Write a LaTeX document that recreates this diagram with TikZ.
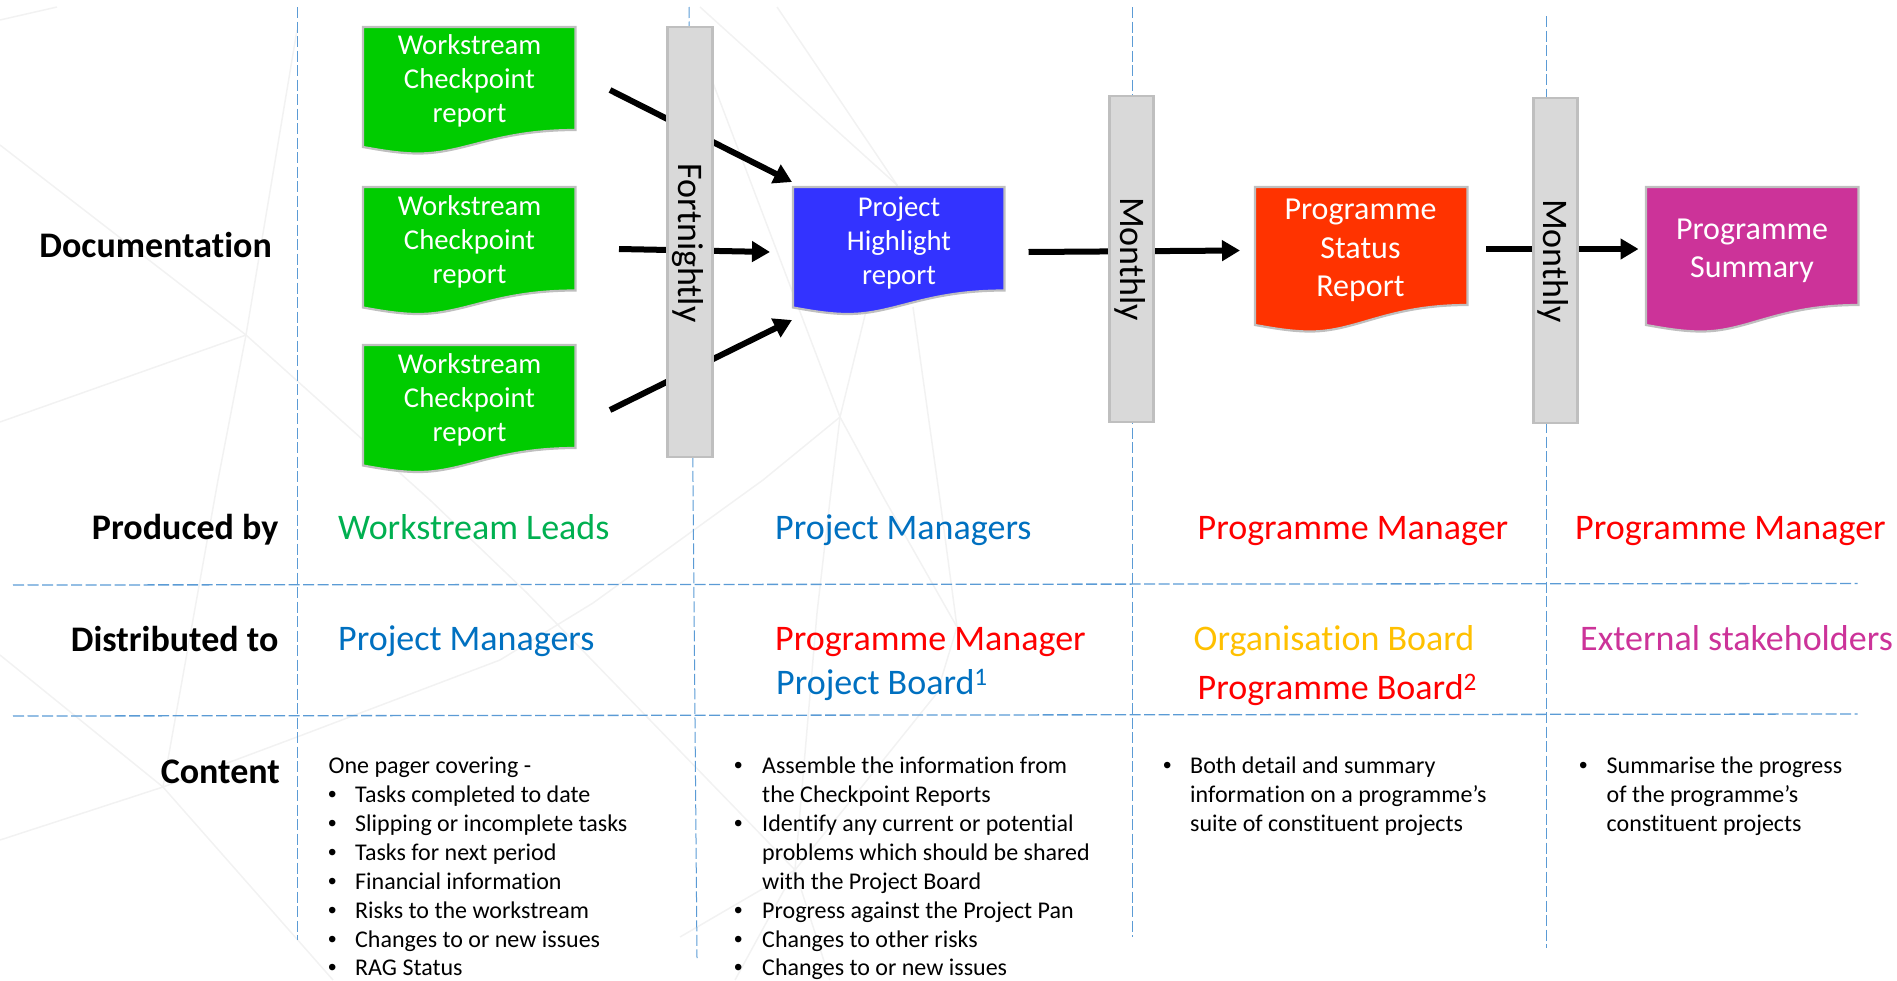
\documentclass[tikz,border=0pt]{standalone}
\usepackage{fontspec}
\setmainfont[Ligatures=NoCommon]{Carlito}
\newfontfamily\bulletfont{Liberation Sans}
\usetikzlibrary{arrows.meta}
\definecolor{bgline}{HTML}{F2F2F2}
\definecolor{rule}{HTML}{5B9BD5}
\definecolor{docgreen}{HTML}{00CC00}
\definecolor{docblue}{HTML}{3333FF}
\definecolor{docred}{HTML}{FF3300}
\definecolor{docmag}{HTML}{CC3399}
\definecolor{barfill}{HTML}{D9D9D9}
\definecolor{barline}{HTML}{BFBFBF}
\definecolor{tgreen}{HTML}{00B050}
\definecolor{tblue}{HTML}{0070C0}
\definecolor{tred}{HTML}{FF0000}
\definecolor{tamber}{HTML}{FFC000}
\definecolor{tmag}{HTML}{CC3399}
\newcommand\docpath[6]{% x0 x1 ytop yleft yright colour
\draw[docedge,fill=#6] (#1,#3) -- (#2,#3) -- (#2,#5)
 .. controls ({#1+0.62*(#2-#1)},#5) and ({#1+0.48*(#2-#1)},{#4+6.5}) .. ({#1+0.26*(#2-#1)},{#4+6.5})
 .. controls ({#1+0.17*(#2-#1)},{#4+6.5}) and ({#1+0.08*(#2-#1)},{#4+3}) .. (#1,#4) -- cycle;}
\tikzset{
 x=1pt,y=-1pt,
 bg/.style={draw=bgline,line width=1.5pt},
 vrule/.style={draw=rule,line width=1pt,dash pattern=on 11pt off 3.5pt},
 hrule/.style={draw=rule,line width=1.3pt,dash pattern=on 11pt off 3.5pt},
 docedge/.style={draw=barline,line width=2.2pt},
 flow/.style={line width=6pt,-{Triangle[length=18pt,width=20pt]}},
 bar/.style={rectangle,draw=barline,line width=2.2pt,fill=barfill,inner sep=0pt},
 vtext/.style={rotate=-90,font=\fontsize{36}{42}\selectfont,text=black,inner sep=0pt},
 doctxt/.style={text=white,align=center,inner sep=0pt,font=\fontsize{28.7}{34}\selectfont},
 doclarge/.style={text=white,align=center,inner sep=0pt,font=\fontsize{32}{38.5}\selectfont},
 rowhead/.style={anchor=base east,inner sep=0pt,font=\fontsize{36}{42}\selectfont\bfseries},
 who/.style={anchor=base west,inner sep=0pt,font=\fontsize{36}{42}\selectfont},
 body/.style={anchor=base west,inner sep=0pt,font=\fontsize{24}{29}\selectfont},
 bul/.style={anchor=base west,inner sep=0pt,font=\fontsize{24}{29}\bulletfont},
}
\begin{document}
\begin{tikzpicture}
\useasboundingbox (0,0) rectangle (1897,980);
% faint background
\draw[bg] (0,20) -- (57,7);
\draw[bg] (0,145) -- (246,335) -- (430,500) -- (527,593) -- (740,813) -- (795,870);
\draw[bg] (0,422) -- (246,335) -- (297,30);
\draw[bg] (246,335) -- (218,480) -- (163,787) -- (0,840);
\draw[bg] (0,655) -- (163,787) -- (333,980);
\draw[bg] (163,787) -- (297,737) -- (500,660) -- (593,603) -- (763,480) -- (840,417);
\draw[bg] (700,7) -- (897,185) -- (840,417) -- (830,500) -- (817,613) -- (795,870);
\draw[bg] (777,7) -- (897,185);
\draw[bg] (713,83) -- (840,417) -- (885,500) -- (957,627);
\draw[bg] (913,307) -- (940,500) -- (957,627) -- (937,693) -- (795,870);
\draw[bg] (680,937) -- (795,870) -- (735,980);
\draw[bg] (795,870) -- (830,980);
% dashed rules
\draw[vrule] (297,7) -- (297,940);
\draw[vrule] (689,7) -- (697,958);
\draw[vrule] (1132,7) -- (1132,937);
\draw[vrule] (1546,16) -- (1546,948);
\draw[hrule] (13,585) -- (1857.5,583.5);
\draw[hrule] (13,716) -- (1857.5,714);
% connector ends
\coordinate (a1s) at (610,90);   \coordinate (a1e) at (792,182);
\coordinate (a2s) at (619,249);  \coordinate (a2e) at (770,252);
\coordinate (a3s) at (610,410);  \coordinate (a3e) at (792,320);
\coordinate (a4s) at (1028.5,252); \coordinate (a4e) at (1240,250.5);
\coordinate (a5s) at (1486,249); \coordinate (a5e) at (1638.5,249);
\draw[flow] (a1s) -- (a1e);
\draw[flow] (a2s) -- (a2e);
\draw[flow] (a3s) -- (a3e);
\draw[flow] (a4s) -- (a4e);
\draw[flow] (a5s) -- (a5e);
% bars
\node[bar,minimum width=45pt,minimum height=430pt] (barF) at (690,242) {};
\node[vtext] (txtF) at (688,243) {Fortnightly};
\node[bar,minimum width=44pt,minimum height=326pt] (barM1) at (1131.5,259) {};
\node[vtext] (txtM1) at (1130,259) {Monthly};
\node[bar,minimum width=44pt,minimum height=325pt] (barM2) at (1555.5,260.5) {};
\node[vtext] (txtM2) at (1553,261) {Monthly};
% documents
\docpath{363}{575.5}{27}{147}{130}{docgreen}
\docpath{363}{575.5}{187}{307.5}{290.5}{docgreen}
\docpath{363}{575.5}{345}{465.5}{448}{docgreen}
\docpath{793}{1004.5}{187}{307.5}{290.5}{docblue}
\docpath{1255}{1467.5}{187}{325}{305}{docred}
\docpath{1646}{1858.5}{187}{325}{305}{docmag}
\node[doctxt] (d1) at (469.5,81.2) {Workstream\\Checkpoint\\report};
\node[doctxt] (d2) at (469.5,242.2) {Workstream\\Checkpoint\\report};
\node[doctxt] (d3) at (469.5,400) {Workstream\\Checkpoint\\report};
\node[doctxt] (d4) at (899,242.5) {Project\\Highlight\\report};
\node[doclarge] (d5) at (1360.5,250.5) {Programme\\Status\\Report};
\node[doclarge] (d6) at (1752,251) {Programme\\Summary};
% row heads
\node[rowhead] (hDoc) at (272,257) {Documentation};
\node[rowhead] (hPro) at (278.5,539.5) {Produced by};
\node[rowhead] (hDis) at (278.5,651.5) {Distributed to};
\node[rowhead] (hCon) at (280,783.5) {Content};
% produced by
\node[who,text=tgreen] (p1) at (338,539.5) {Workstream Leads};
\node[who,text=tblue] (p2) at (775,539.5) {Project Managers};
\node[who,text=tred] (p3) at (1197.5,539.5) {Programme Manager};
\node[who,text=tred] (p4) at (1575,539.5) {Programme Manager};
% distributed to
\node[who,text=tblue] (t1) at (338,650) {Project Managers};
\node[who,text=tred] (t2) at (775,650) {Programme Manager};
\node[who,text=tblue] (t3) at (776,694.5) {Project Board\textsuperscript{1}};
\node[who,text=tamber] (t4) at (1193.5,650) {Organisation Board};
\node[who,text=tred] (t5) at (1197.5,699.5) {Programme Board\textsuperscript{2}};
\node[who,text=tmag] (t6) at (1580,650) {External stakeholders};
% content column 1
\node[body] (c10) at (328.5,773) {One pager covering -};
\node[bul] (c1b1) at (328,802) {•}; \node[body] (c11) at (355,802) {Tasks completed to date};
\node[bul] (c1b2) at (328,831) {•}; \node[body] (c12) at (355,831) {Slipping or incomplete tasks};
\node[bul] (c1b3) at (328,860) {•}; \node[body] (c13) at (355,860) {Tasks for next period};
\node[bul] (c1b4) at (328,889) {•}; \node[body] (c14) at (355,889) {Financial information};
\node[bul] (c1b5) at (328,918) {•}; \node[body] (c15) at (355,918) {Risks to the workstream};
\node[bul] (c1b6) at (328,947) {•}; \node[body] (c16) at (355,947) {Changes to or new issues};
\node[bul] (c1b7) at (328,975) {•}; \node[body] (c17) at (355,975) {RAG Status};
% content column 2
\node[bul] (c2b1) at (734,773) {•}; \node[body] (c21) at (762,773) {Assemble the information from};
\node[body] (c22) at (762,802) {the Checkpoint Reports};
\node[bul] (c2b2) at (734,831) {•}; \node[body] (c23) at (762,831) {Identify any current or potential};
\node[body] (c24) at (762,860) {problems which should be shared};
\node[body] (c25) at (762,889) {with the Project Board};
\node[bul] (c2b3) at (734,918) {•}; \node[body] (c26) at (762,918) {Progress against the Project Pan};
\node[bul] (c2b4) at (734,947) {•}; \node[body] (c27) at (762,947) {Changes to other risks};
\node[bul] (c2b5) at (734,975) {•}; \node[body] (c28) at (762,975) {Changes to or new issues};
% content column 3
\node[bul] (c3b1) at (1163,773) {•}; \node[body] (c31) at (1190,773) {Both detail and summary};
\node[body] (c32) at (1190,802) {information on a programme’s};
\node[body] (c33) at (1190,831) {suite of constituent projects};
% content column 4
\node[bul] (c4b1) at (1579,773) {•}; \node[body] (c41) at (1606.5,773) {Summarise the progress};
\node[body] (c42) at (1606.5,802) {of the programme’s};
\node[body] (c43) at (1606.5,831) {constituent projects};
\end{tikzpicture}
\end{document}
